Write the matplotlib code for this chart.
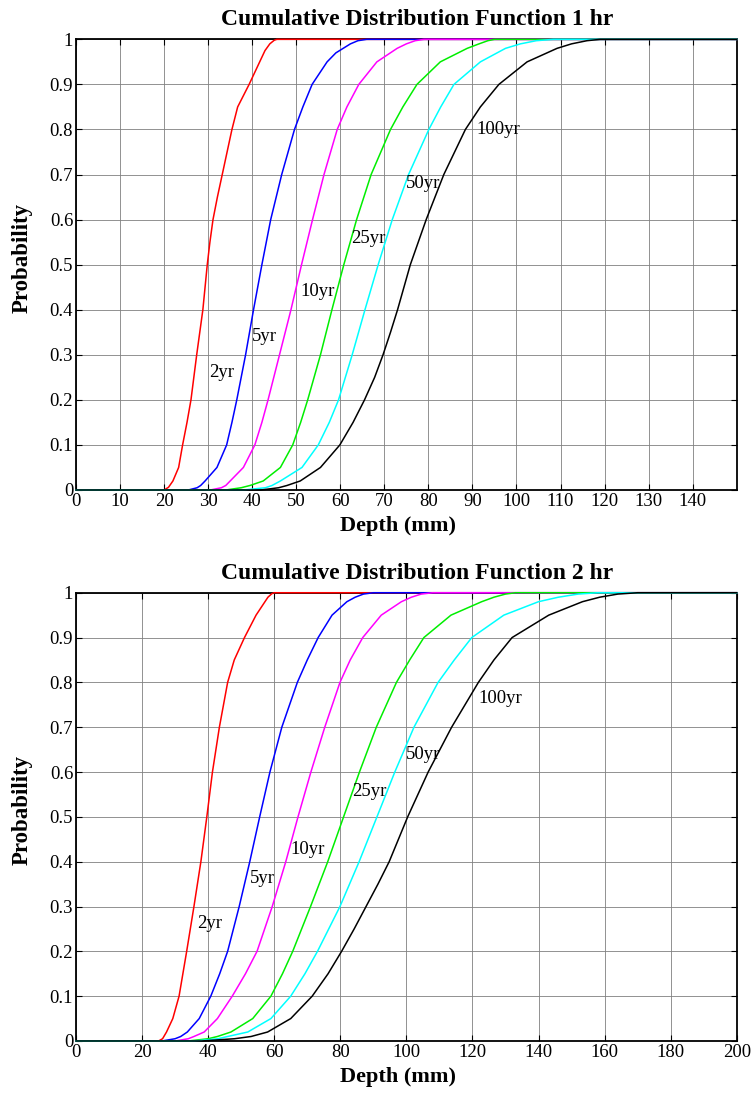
import matplotlib
matplotlib.use("Agg")
import matplotlib.pyplot as plt

plt.rcParams["font.family"] = ["Liberation Serif", "DejaVu Serif"]

LABELS = ["2yr", "5yr", "10yr", "25yr", "50yr", "100yr"]
COLORS = ["#ff0000", "#0000ff", "#ff00ff", "#00ee00", "#00ffff", "#000000"]

# ---- 1 hr : depth (mm) / cumulative probability ----
d1_2yr = [0, 20, 21, 22, 23.3, 24.2, 25.2, 26.1, 27.4, 28.8, 29.8, 30.4, 31.1, 32.1, 33.2, 34.3, 35.4, 36.7, 38, 39.3, 40.5, 41.7, 42.9, 44, 45, 45.6, 150]
p1_2yr = [0, 0, .006, .02, .05, .1, .15, .2, .3, .4, .5, .55, .6, .65, .7, .75, .8, .85, .875, .9, .925, .95, .975, .99, .998, 1, 1]
d1_5yr = [0, 25.5, 27.5, 28.3, 29.3, 32, 34.2, 35.4, 36.5, 38.5, 40.3, 42.2, 44.2, 46.7, 49.6, 51.5, 53.6, 57, 59, 62.3, 64, 66, 150]
p1_5yr = [0, 0, .005, .01, .02, .05, .1, .15, .2, .3, .4, .5, .6, .7, .8, .85, .9, .95, .97, .99, .997, 1, 1]
d1_10yr = [0, 30.5, 33, 34, 35, 38, 40.6, 42.2, 43.6, 46.2, 48.8, 51.2, 53.7, 56.3, 59.3, 61.5, 64.2, 68.3, 72.9, 75, 77, 79, 150]
p1_10yr = [0, 0, .005, .01, .02, .05, .1, .15, .2, .3, .4, .5, .6, .7, .8, .85, .9, .95, .98, .99, .997, 1, 1]
d1_25yr = [0, 34, 37.5, 39.5, 42.5, 46.4, 49.2, 51, 52.6, 55.5, 58.1, 60.8, 63.7, 67, 71.4, 74.2, 77.4, 82.7, 88.8, 91.5, 93.5, 95, 150]
p1_25yr = [0, 0, .005, .01, .02, .05, .1, .15, .2, .3, .4, .5, .6, .7, .8, .85, .9, .95, .98, .99, .997, 1, 1]
d1_50yr = [0, 38, 43, 44.5, 46.4, 51.3, 55, 57.5, 59.6, 62.7, 65.6, 68.6, 71.8, 75.5, 80.1, 82.8, 85.8, 91.8, 97.5, 100.9, 104.5, 108.4, 150]
p1_50yr = [0, 0, .005, .01, .02, .05, .1, .15, .2, .3, .4, .5, .6, .7, .8, .85, .9, .95, .98, .99, .997, 1, 1]
d1_100yr = [0, 42, 46, 47.9, 50.9, 55.5, 59.9, 62.9, 65.5, 67.8, 69.7, 71.4, 73, 75.9, 79.5, 83.5, 88.4, 91.8, 96, 102.4, 109.2, 112.5, 116, 119, 150]
p1_100yr = [0, 0, .005, .01, .02, .05, .1, .15, .2, .25, .3, .35, .4, .5, .6, .7, .8, .85, .9, .95, .98, .99, .997, 1, 1]

# ---- 2 hr ----
d2_2yr = [0, 25, 26.2, 27.4, 29.3, 31.2, 33.5, 35.7, 37.8, 39.6, 41.3, 43.4, 45.9, 47.9, 51, 54.5, 58.1, 59.3, 60, 200]
p2_2yr = [0, 0, .005, .02, .05, .1, .2, .3, .4, .5, .6, .7, .8, .85, .9, .95, .99, .998, 1, 1]
d2_5yr = [0, 26, 30, 31.7, 33.7, 37.3, 40.8, 43.5, 45.9, 49.4, 52.6, 55.6, 58.7, 62.3, 67, 70, 73.3, 77.5, 82, 84.5, 87, 90, 200]
p2_5yr = [0, 0, .005, .01, .02, .05, .1, .15, .2, .3, .4, .5, .6, .7, .8, .85, .9, .95, .98, .99, .997, 1, 1]
d2_10yr = [0, 30, 34, 35.7, 38.8, 42.8, 47.3, 51.3, 54.8, 59.4, 63.5, 67.2, 71.1, 75.3, 79.9, 83, 86.8, 92.4, 98.5, 101.5, 104.5, 108, 200]
p2_10yr = [0, 0, .005, .01, .02, .05, .1, .15, .2, .3, .4, .5, .6, .7, .8, .85, .9, .95, .98, .99, .997, 1, 1]
d2_25yr = [0, 34, 40, 42.8, 46.9, 53.5, 59, 62.5, 65.6, 71, 76.2, 81, 85.8, 90.9, 97, 101, 105.3, 113.5, 122.8, 126.5, 130, 133, 200]
p2_25yr = [0, 0, .005, .01, .02, .05, .1, .15, .2, .3, .4, .5, .6, .7, .8, .85, .9, .95, .98, .99, .997, 1, 1]
d2_50yr = [0, 36, 43, 45.9, 52, 59, 65, 69.3, 73.1, 79.9, 85.7, 91.1, 96.5, 102.3, 109.6, 114.5, 119.8, 129.5, 140, 146, 152, 158, 200]
p2_50yr = [0, 0, .005, .01, .02, .05, .1, .15, .2, .3, .4, .5, .6, .7, .8, .85, .9, .95, .98, .99, .997, 1, 1]
d2_100yr = [0, 38, 48, 53, 58, 65, 71.5, 76.3, 80.4, 84.2, 87.8, 91.4, 94.8, 100.4, 106.6, 113.7, 121.8, 126.5, 132, 143.1, 153.3, 158.5, 164, 170, 200]
p2_100yr = [0, 0, .005, .01, .02, .05, .1, .15, .2, .25, .3, .35, .4, .5, .6, .7, .8, .85, .9, .95, .98, .99, .997, 1, 1]

# curve labels (left edge, vertical middle)
lab1_x = [30.2, 40, 51, 62.5, 75, 91]
lab1_y = [0.26, 0.34, 0.44, 0.558, 0.68, 0.80]
lab2_x = [36.7, 52.7, 65, 83.6, 100, 121.8]
lab2_y = [0.262, 0.363, 0.428, 0.556, 0.638, 0.765]

PANELS = [
    ("Cumulative Distribution Function 1 hr", 150, range(0, 150, 10),
     [(d1_2yr, p1_2yr), (d1_5yr, p1_5yr), (d1_10yr, p1_10yr),
      (d1_25yr, p1_25yr), (d1_50yr, p1_50yr), (d1_100yr, p1_100yr)],
     lab1_x, lab1_y, [0.1012, 0.5517, 0.8798, 0.4123]),
    ("Cumulative Distribution Function 2 hr", 200, range(0, 201, 20),
     [(d2_2yr, p2_2yr), (d2_5yr, p2_5yr), (d2_10yr, p2_10yr),
      (d2_25yr, p2_25yr), (d2_50yr, p2_50yr), (d2_100yr, p2_100yr)],
     lab2_x, lab2_y, [0.1012, 0.0476, 0.8798, 0.4101]),
]

fig = plt.figure(figsize=(7.51, 10.93), dpi=100)

for title, xmax, xticks, curves, lx, ly, pos in PANELS:
    ax = fig.add_axes(pos)
    for (d, p), c in zip(curves, COLORS):
        ax.plot(d, p, color=c, lw=1.1, zorder=3, clip_on=False,
                solid_joinstyle="round")
    for name, x, y in zip(LABELS, lx, ly):
        ax.text(x, y, name, ha="left", va="center", fontsize=13.5, zorder=4)
    ax.set_xlim(0, xmax)
    ax.set_ylim(0, 1)
    ax.set_xticks(list(xticks))
    ax.set_yticks([i / 10 for i in range(11)])
    ax.set_yticklabels(["0"] + ["0.%d" % i for i in range(1, 10)] + ["1"])
    ax.grid(True, color="0.5", lw=0.6)
    ax.set_axisbelow(True)
    ax.tick_params(direction="in", top=True, right=True, length=4, width=0.8,
                   labelsize=13.5, pad=2)
    for s in ax.spines.values():
        s.set_linewidth(1.3)
    ax.set_title(title, fontsize=17, fontweight="bold", pad=10, x=0.517)
    ax.set_xlabel("Depth (mm)", fontsize=16, fontweight="bold")
    ax.set_ylabel("Probability", fontsize=16.5, fontweight="bold")
    ax.xaxis.set_label_coords(0.488, -0.058)
    ax.yaxis.set_label_coords(-0.065, 0.515)

fig.savefig("out.png", dpi=100)
